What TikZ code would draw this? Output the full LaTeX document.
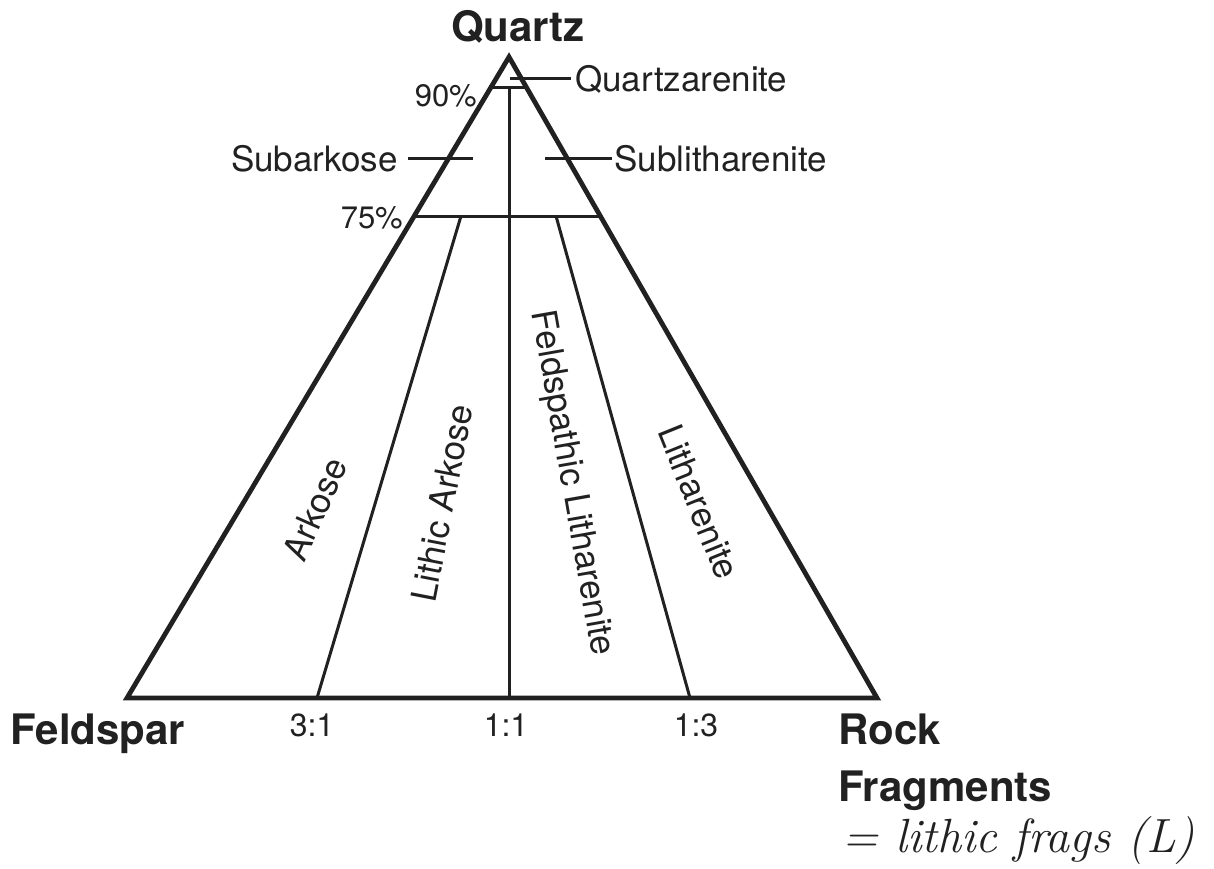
\documentclass[tikz,border=0pt]{standalone}
\usepackage{fontspec}
\newfontfamily\helv{TeX Gyre Heros}
\usepackage{xcolor}
\usetikzlibrary{positioning}
\definecolor{ink}{gray}{0.13}
\tikzset{
  edge/.style={draw=ink, line width=4.8pt, line join=miter},
  divider/.style={draw=ink, line width=3pt},
  lbl/.style={text=ink, inner sep=0pt, font=\helv\fontsize{35}{42}\selectfont},
  pct/.style={text=ink, inner sep=0pt, font=\helv\fontsize{31}{37}\selectfont},
  ratio/.style={text=ink, inner sep=0pt, font=\helv\fontsize{32}{38}\selectfont},
  corner/.style={text=ink, inner sep=0pt, font=\helv\bfseries\fontsize{42}{50}\selectfont},
  hand/.style={text=ink, inner sep=0pt, font=\itshape\fontsize{48}{54}\selectfont}
}
\begin{document}
\begin{tikzpicture}[x=1pt, y=-1pt]
  \useasboundingbox (0,0) rectangle (1214,869);

  % Define corners and division points
  \coordinate (apex) at (509,57);
  \coordinate (fs) at (127,698);
  \coordinate (rf) at (877,698);
  \coordinate (q90l) at (491,88);
  \coordinate (q90r) at (527,88);
  \coordinate (q90m) at (509,88);
  \coordinate (q75l) at (414,216);
  \coordinate (q75r) at (600,216);
  \coordinate (t31) at (461,216);
  \coordinate (b31) at (317,698);
  \coordinate (b11) at (509,698);
  \coordinate (t13) at (556,216);
  \coordinate (b13) at (690,698);

  % Draw the triangle and its fields
  \draw[edge] (apex) -- (fs) -- (rf) -- cycle;
  \draw[divider] (q90l) -- (q90r);
  \draw[divider] (q75l) -- (q75r);
  \draw[divider] (q90m) -- (b11);
  \draw[divider] (t31) -- (b31);
  \draw[divider] (t13) -- (b13);

  % Corner labels
  \node[corner, anchor=base] (Q) at (518,42) {Quartz};
  \node[corner, anchor=base west] (F) at (10,744) {Feldspar};
  \node[corner, anchor=base west] (R) at (838,744) {Rock};
  \node[corner, anchor=base west] (Rf) at (838,801) {Fragments};
  \node[hand, anchor=base west] (L) at (842,852) {= lithic frags (L)};

  % Percentages and ratios
  \node[pct, anchor=east] (p90) at (477,96) {90\%};
  \node[pct, anchor=east] (p75) at (403,218) {75\%};
  \node[ratio, anchor=base] (r31) at (312,736) {3:1};
  \node[ratio, anchor=base] (r11) at (506,736) {1:1};
  \node[ratio, anchor=base] (r13) at (696,736) {1:3};

  % Small fields with leaders
  \node[lbl, anchor=west] (qa) at (575,79) {Quartzarenite};
  \node[lbl, anchor=east] (sa) at (398,159) {Subarkose};
  \node[lbl, anchor=west] (sl) at (614,159) {Sublitharenite};
  \coordinate (qa0) at (510,79);
  \coordinate (sa1) at (473,159);
  \coordinate (sl0) at (545,159);
  \draw[divider, shorten >=4pt] (qa0) -- (qa.west);
  \draw[divider, shorten <=10pt] (sa.east) -- (sa1);
  \draw[divider, shorten >=2pt] (sl0) -- (sl.west);

  % Rotated field names
  \node[lbl, rotate=66] (ark) at (315,509) {Arkose};
  \node[lbl, rotate=79] (lark) at (442,503) {Lithic Arkose};
  \node[lbl, rotate=-80] (flith) at (571,483) {Feldspathic Litharenite};
  \node[lbl, rotate=-68] (lith) at (699,502) {Litharenite};
\end{tikzpicture}
\end{document}
